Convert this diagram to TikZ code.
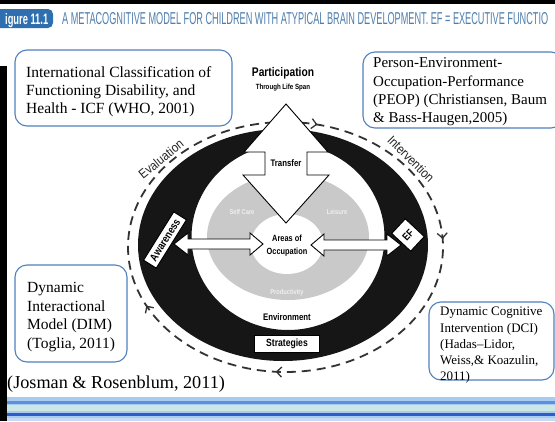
\documentclass[tikz,border=0pt]{standalone}
\usepackage{fontspec}
\usepackage{graphicx}
\setmainfont{Liberation Serif}
\newfontfamily\dsans{Liberation Sans}
\usetikzlibrary{arrows.meta,decorations.markings}

\definecolor{boxblue}{HTML}{4F81BD}
\definecolor{tabblue}{HTML}{2F6FB0}
\definecolor{captblue}{HTML}{4F7FAE}
\definecolor{ringblack}{HTML}{161616}
\definecolor{diskgray}{HTML}{C9C9C9}
\definecolor{bandlight}{HTML}{A9CBEF}
\definecolor{bandmid}{HTML}{5B8FE0}
\definecolor{bandpale}{HTML}{CBE7E6}
\definecolor{banddark}{HTML}{2E5CCB}

% condensed bold sans label: \cnd[xscale]{size}{text}
\newcommand\cnd[3][0.82]{{\dsans\bfseries\fontsize{#2}{#2}\selectfont\scalebox{#1}[1]{#3}}}
% condensed regular sans label
\newcommand\cnr[3][0.88]{{\dsans\fontsize{#2}{#2}\selectfont\scalebox{#1}[1]{#3}}}

\begin{document}
\begin{tikzpicture}[x=1pt,y=-1pt,
  refbox/.style={draw=boxblue, line width=1.1pt, rounded corners=12pt, fill=white},
  reftext/.style={anchor=north west, inner sep=0pt, align=left},
  blockarrow/.style={draw=black, line width=0.9pt, fill=white, line join=miter},
  tagbox/.style={draw=black, line width=1pt, fill=white, inner sep=1.5pt},
  cycleline/.style={draw=black!80, line width=1.8pt, dash pattern=on 9pt off 6pt},
  plainlbl/.style={inner sep=0pt},
]
\useasboundingbox (0,0) rectangle (555,421);
\clip (0,0) rectangle (555,421);
\fill[white] (0,0) rectangle (555,421);

% ---- header strip ----
\fill[black] (0,0) rectangle (555,4);
\fill[tabblue, rounded corners=5pt] (-10,9) rectangle (53,28);
\node[anchor=base west, inner sep=0pt, text=white] (figtag) at (5,24.5)
  {\resizebox{43pt}{11pt}{\dsans\bfseries igure 11.1}};
\node[anchor=base west, inner sep=0pt, text=captblue] (caption) at (62,24)
  {\resizebox{486pt}{12pt}{\dsans A METACOGNITIVE MODEL FOR CHILDREN WITH ATYPICAL BRAIN DEVELOPMENT. EF = EXECUTIVE FUNCTIO}};

% ---- bottom stripes ----
\fill[bandlight] (0,397) rectangle (555,421);
\fill[bandmid] (0,401) rectangle (555,403.5);
\fill[bandpale] (0,405) rectangle (555,411);
\fill[banddark] (0,413) rectangle (555,416);
\fill[bandlight!70!white] (0,417.5) rectangle (555,421);

% left frame edge
\fill[black] (0,66) rectangle (6.5,421);

% ---- dashed process cycle (clockwise) ----
\path[cycleline, postaction={decorate},
  decoration={markings,
    mark=at position 0.036 with {\arrow{Straight Barb[length=5pt,width=10pt,line width=1.3pt]}},
    mark=at position 0.241 with {\arrow{Straight Barb[length=5pt,width=10pt,line width=1.3pt]}},
    mark=at position 0.511 with {\arrow{Straight Barb[length=5pt,width=10pt,line width=1.3pt]}},
    mark=at position 0.680 with {\arrow{Straight Barb[length=5pt,width=10pt,line width=1.3pt]}}}]
  (285.5,122) arc[start angle=90, end angle=-270, x radius=157.5pt, y radius=125pt];

\node[plainlbl, rotate=39, text=black!85] (evaluation) at (161,159) {\cnr{13}{Evaluation}};
\node[plainlbl, rotate=-45, text=black!85] (intervention) at (411,159) {\cnr{13}{Intervention}};

% ---- environment ring and occupation disk ----
\fill[ringblack, even odd rule]
  (283,245) ellipse[x radius=145pt, y radius=116pt]
  (288,237) ellipse[x radius=96.5pt, y radius=93pt];
\fill[diskgray] (288,237) ellipse[x radius=81pt, y radius=63pt];
\fill[white] (287,244) ellipse[x radius=36pt, y radius=30pt];

% ---- block arrows ----
\draw[blockarrow] (286,104) -- (328,152) -- (307,152) -- (307,175) -- (329,175)
  -- (286,223) -- (243,175) -- (265,175) -- (265,152) -- (244,152) -- cycle;
\draw[blockarrow] (174,244) -- (188,233) -- (188,239) -- (250,239) -- (250,233)
  -- (263,244) -- (250,255) -- (250,249) -- (188,249) -- (188,255) -- cycle;
\draw[blockarrow] (311,245) -- (324,234) -- (324,240) -- (387,240) -- (387,234)
  -- (401,245) -- (387,256) -- (387,250) -- (324,250) -- (324,256) -- cycle;

% ---- diagram labels ----
\node[plainlbl] (participation) at (283,73) {\cnd{12.5}{Participation}};
\node[plainlbl] (lifespan) at (283,88) {\cnd{7.5}{Through Life Span}};
\node[plainlbl] (transfer) at (286,163) {\cnd{9.5}{Transfer}};
\node[plainlbl, align=center, font=\fontsize{9}{13}\selectfont] (areas) at (287,246)
  {\cnd{9}{Areas of}\\\cnd{9}{Occupation}};
\node[plainlbl, text=white!94!black] (selfcare) at (242,212) {\cnd{7}{Self Care}};
\node[plainlbl, text=white!94!black] (leisure) at (337,212) {\cnd{7}{Leisure}};
\node[plainlbl, text=white!94!black] (productivity) at (287,293) {\cnd{7}{Productivity}};
\node[plainlbl] (environment) at (287,317) {\cnd{9.5}{Environment}};
\node[tagbox, minimum width=65pt, minimum height=17pt] (strategies) at (287,344) {\cnd{10.5}{Strategies}};
\node[tagbox, rotate=58, minimum width=57pt, minimum height=15pt] (awareness) at (165,240) {\cnd{11}{Awareness}};
\node[tagbox, rotate=47, minimum width=20pt, minimum height=26pt] (ef) at (408,235) {\cnd{10.5}{EF}};

% ---- reference boxes ----
\node[refbox, minimum width=217pt, minimum height=76pt] (icfbox) at (123.5,88) {};
\node[reftext, font=\fontsize{15.5}{18}\selectfont] (icf) at (26,66.4)
  {International Classification of\\Functioning Disability, and\\Health - ICF (WHO, 2001)};

\node[refbox, minimum width=200pt, minimum height=76pt] (peopbox) at (463,90) {};
\node[reftext, font=\fontsize{15}{18.3}\selectfont] (peop) at (373,57.6)
  {Person-Environment-\\Occupation-Performance\\(PEOP) (Christiansen, Baum\\\& Bass-Haugen,2005)};

\node[refbox, minimum width=112pt, minimum height=97pt] (dimbox) at (71,313.5) {};
\node[reftext, font=\fontsize{15.5}{18.7}\selectfont] (dim) at (27,282)
  {Dynamic\\Interactional\\Model (DIM)\\(Toglia, 2011)};

\node[refbox, minimum width=125pt, minimum height=78pt] (dcibox) at (491.5,341) {};
\node[reftext, font=\fontsize{13}{16.2}\selectfont] (dci) at (440,307)
  {Dynamic Cognitive\\Intervention (DCI)\\(Hadas–Lidor,\\Weiss,\& Koazulin,\\2011)};

\node[anchor=base west, inner sep=0pt, font=\fontsize{18.2}{21}\selectfont] (josman) at (7,388)
  {(Josman \& Rosenblum, 2011)};
\end{tikzpicture}
\end{document}
